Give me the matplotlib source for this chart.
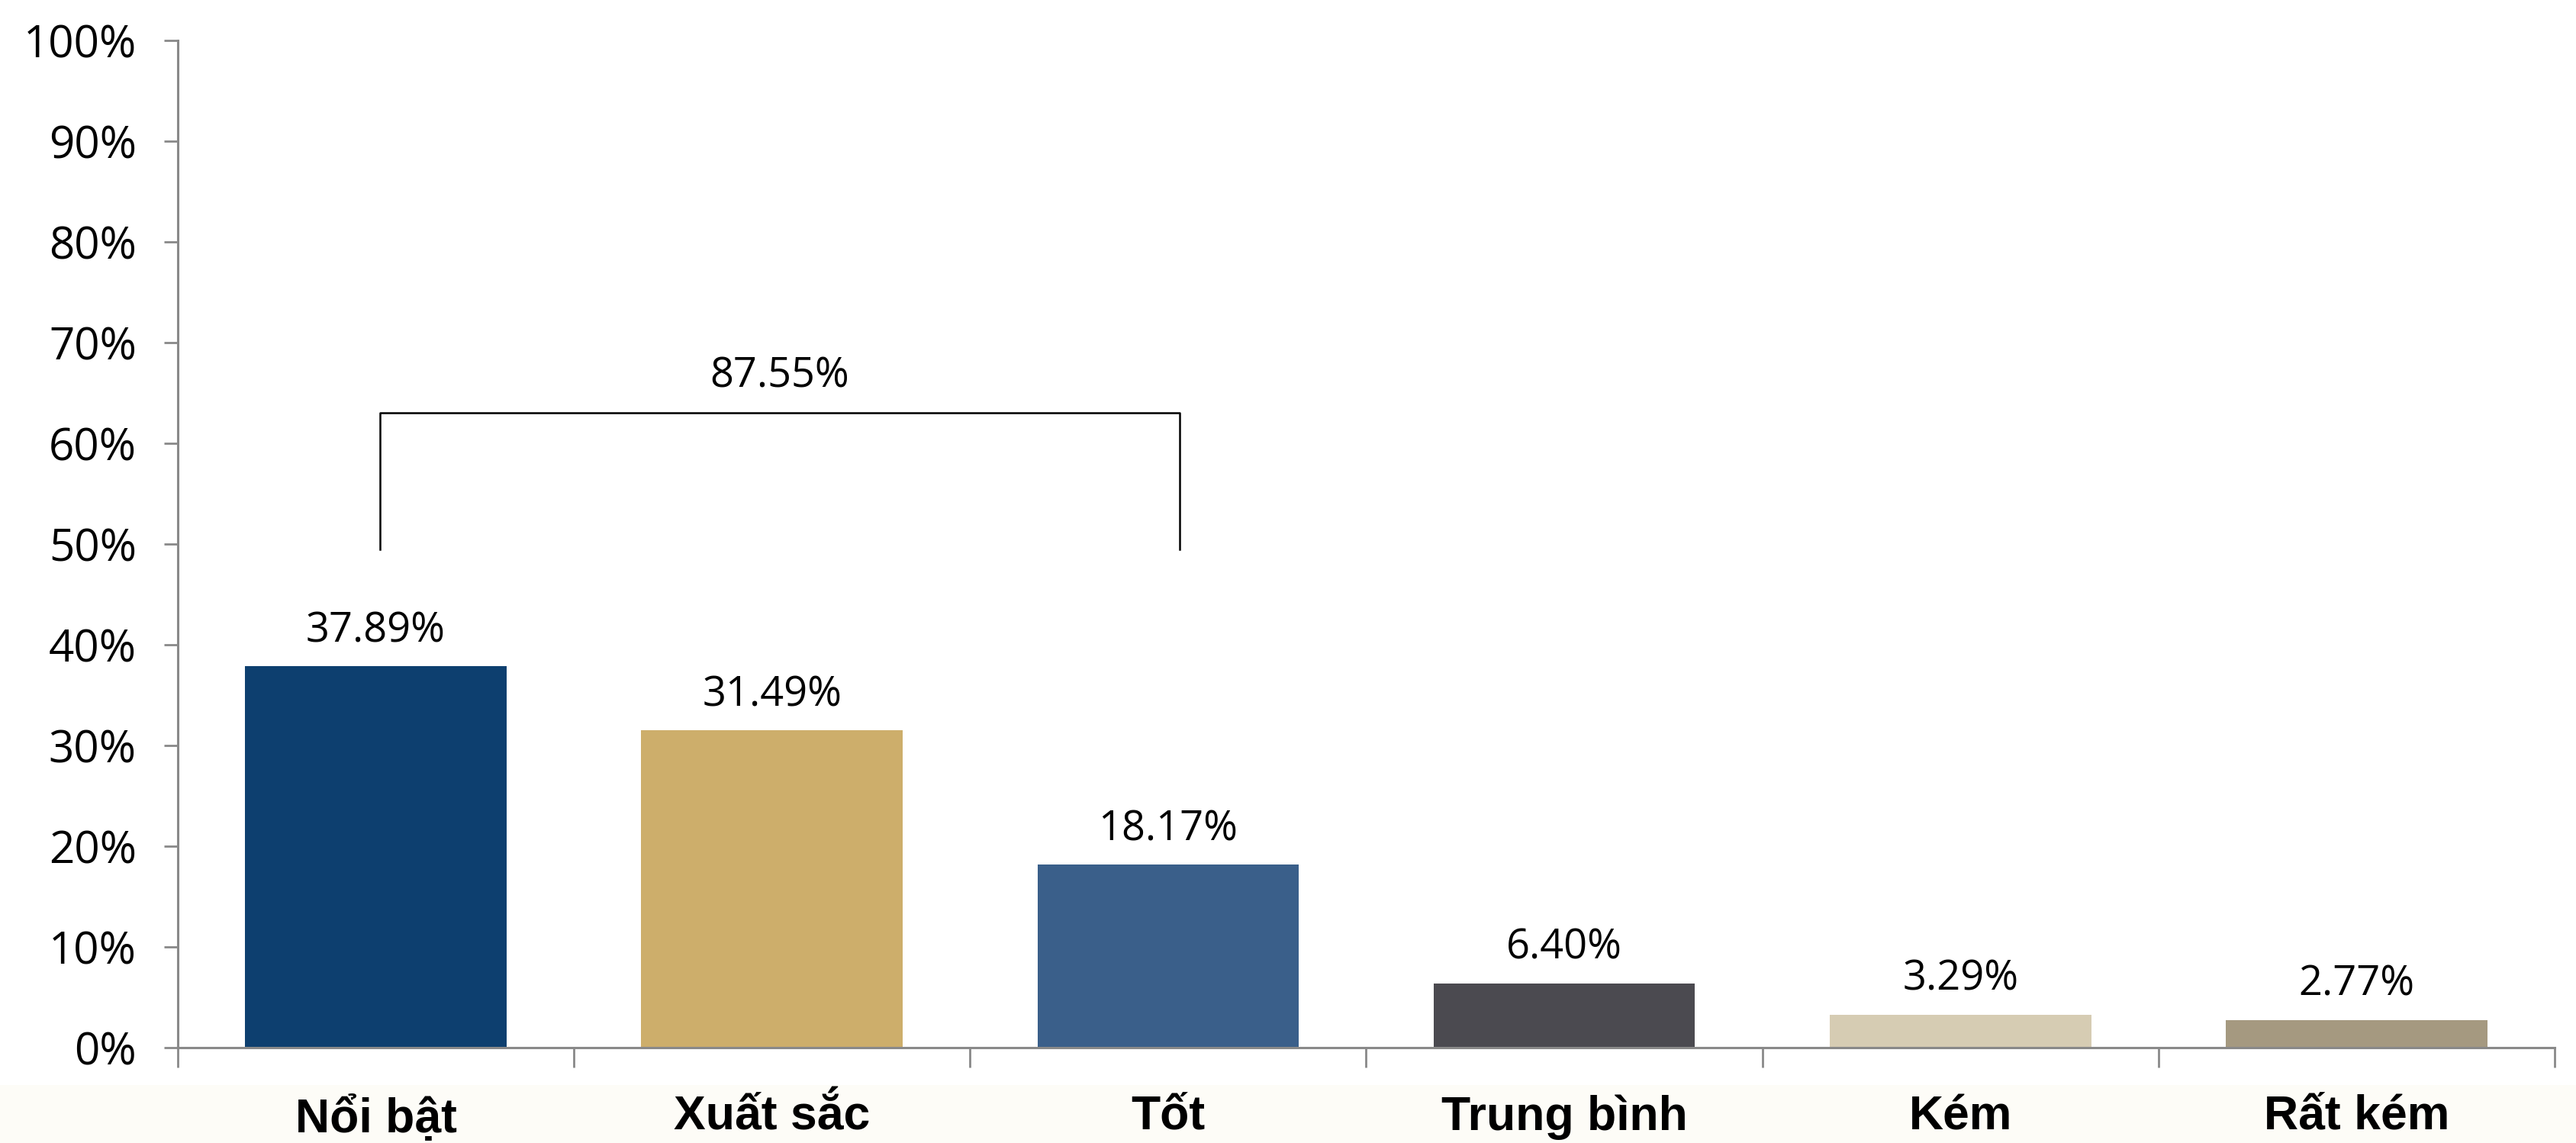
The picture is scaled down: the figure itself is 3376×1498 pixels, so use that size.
import matplotlib.pyplot as plt
from matplotlib.patches import Rectangle
from matplotlib.ticker import FixedLocator, NullFormatter

# Data
categories = ['Nổi bật', 'Xuất sắc', 'Tốt', 'Trung bình', 'Kém', 'Rất kém']
values = [37.89, 31.49, 18.17, 6.40, 3.29, 2.77]
bar_colors = ['#0D3F6F', '#CDAE6B', '#3A5F8A', '#4B4A50', '#D6CCB3', '#A59980']
group_total = 87.55  # Nổi bật + Xuất sắc + Tốt

plt.rcParams['font.family'] = ['Liberation Sans Narrow', 'Liberation Sans', 'DejaVu Sans']

fig = plt.figure(figsize=(33.76, 14.98), dpi=100, facecolor='white')
# light cream strip under the plot area (behind the axes)
fig.patches.append(Rectangle((0, 0), 1, 0.051, transform=fig.transFigure,
                             facecolor='#FDFCF7', edgecolor='none', zorder=-5))
ax = fig.add_axes([0.069, 0.0834, 0.9227, 0.8812])
ax.set_facecolor('white')

x = list(range(len(categories)))
ax.bar(x, values, width=0.66, color=bar_colors, zorder=2)

ax.set_xlim(-0.5, len(categories) - 0.5)
ax.set_ylim(0, 100)

# y axis
ax.set_yticks(range(0, 101, 10))
ax.set_yticklabels([f'{v}%' for v in range(0, 101, 10)],
                   fontsize=42, family=['Open Sans', 'DejaVu Sans'])
ax.tick_params(axis='y', length=13, width=2, color='#898989', pad=26)

# x axis: ticks on the category boundaries, labels in the middle
ax.xaxis.set_major_locator(FixedLocator([i - 0.5 for i in range(len(categories) + 1)]))
ax.xaxis.set_major_formatter(NullFormatter())
ax.xaxis.set_minor_locator(FixedLocator(x))
ax.set_xticklabels(categories, minor=True, fontsize=45, fontweight='bold')
ax.tick_params(axis='x', which='major', length=19, width=2, color='#898989')
ax.tick_params(axis='x', which='minor', length=0, pad=44)

for side in ['top', 'right']:
    ax.spines[side].set_visible(False)
for side in ['left', 'bottom']:
    ax.spines[side].set_color('#898989')
    ax.spines[side].set_linewidth(2.2)

# value labels
for xi, v in zip(x, values):
    ax.text(xi, v + 3.5, f'{v:.2f}%', ha='center', va='center', fontsize=39,
            family=['Open Sans', 'DejaVu Sans'])

# bracket over the first three bars
ax.plot([0.01, 0.01, 2.03, 2.03], [49.5, 63, 63, 49.5], color='black', lw=1.8, zorder=3)
ax.text(1.02, 66.7, f'{group_total:.2f}%', ha='center', va='center', fontsize=39,
        family=['Open Sans', 'DejaVu Sans'])

fig.savefig('out.png', dpi=100, facecolor=fig.get_facecolor())
